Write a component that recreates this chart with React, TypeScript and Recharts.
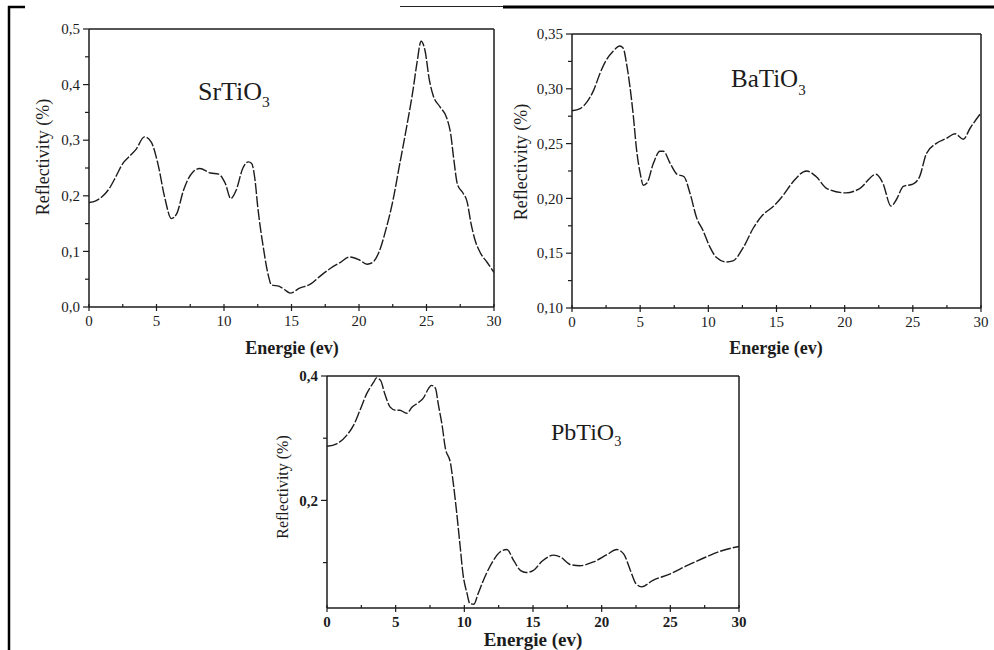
import React from 'react';
import { LineChart, Line, XAxis, YAxis, ReferenceLine } from 'recharts';

// shared energy axis (eV)
const energyTicks = [0, 2.5, 5, 7.5, 10, 12.5, 15, 17.5, 20, 22.5, 25, 27.5, 30];
const energyLabels = [0, 5, 10, 15, 20, 25, 30];

// SrTiO3
const srEnergy = [0, 0.5, 1, 1.5, 2, 2.5, 3, 3.5, 4.1, 4.6, 5.1, 5.6, 6.1, 6.5, 7, 7.7, 8.2, 9, 9.6, 10.1, 10.5, 10.9, 11.4, 11.8, 12.05, 12.3, 12.5, 12.9, 13.3, 13.5, 14.1, 14.5, 14.9, 15.6, 16.4, 17.1, 18.1, 18.6, 19.3, 20, 20.6, 21, 21.5, 22, 22.5, 23, 23.5, 24, 24.3, 24.6, 24.9, 25.2, 25.5, 26, 26.5, 26.8, 27, 27.3, 27.7, 28, 28.3, 28.6, 29, 29.5, 30];
const srRefl = [0.188, 0.191, 0.199, 0.213, 0.235, 0.258, 0.271, 0.284, 0.306, 0.297, 0.258, 0.198, 0.159, 0.168, 0.21, 0.243, 0.249, 0.241, 0.239, 0.222, 0.195, 0.21, 0.25, 0.261, 0.258, 0.228, 0.18, 0.109, 0.055, 0.04, 0.037, 0.031, 0.025, 0.034, 0.041, 0.055, 0.073, 0.08, 0.09, 0.085, 0.077, 0.08, 0.1, 0.14, 0.19, 0.255, 0.32, 0.39, 0.44, 0.478, 0.46, 0.41, 0.38, 0.36, 0.34, 0.31, 0.27, 0.22, 0.205, 0.19, 0.15, 0.12, 0.097, 0.08, 0.062];
const srTicks = [0, 0.05, 0.1, 0.15, 0.2, 0.25, 0.3, 0.35, 0.4, 0.45, 0.5];
const srLabels = [0, 0.1, 0.2, 0.3, 0.4, 0.5];

// BaTiO3
const baEnergy = [0, 0.6, 1.1, 1.6, 2.05, 2.5, 3.0, 3.5, 3.76, 4.0, 4.25, 4.5, 4.74, 5.0, 5.23, 5.5, 5.97, 6.45, 6.7, 7.2, 7.7, 8.2, 8.65, 9.15, 9.6, 10.1, 10.6, 11.3, 11.8, 12.6, 13.3, 14.0, 14.8, 15.5, 16.2, 17.2, 17.9, 18.7, 20.1, 21.1, 22.3, 22.8, 23.4, 23.8, 24.3, 25.0, 25.5, 26.0, 26.7, 27.5, 28.1, 28.7, 29.2, 30];
const baRefl = [0.28, 0.282, 0.288, 0.299, 0.314, 0.326, 0.334, 0.339, 0.337, 0.323, 0.302, 0.275, 0.244, 0.223, 0.212, 0.214, 0.232, 0.243, 0.243, 0.232, 0.222, 0.22, 0.205, 0.182, 0.171, 0.156, 0.146, 0.142, 0.143, 0.156, 0.173, 0.185, 0.193, 0.203, 0.215, 0.225, 0.22, 0.209, 0.205, 0.209, 0.222, 0.214, 0.193, 0.199, 0.211, 0.213, 0.22, 0.241, 0.25, 0.255, 0.259, 0.254, 0.264, 0.278];
const baTicks = [0.1, 0.125, 0.15, 0.175, 0.2, 0.225, 0.25, 0.275, 0.3, 0.325, 0.35];
const baLabels = [0.1, 0.15, 0.2, 0.25, 0.3, 0.35];

// PbTiO3
const pbEnergy = [0, 0.7, 1.45, 1.94, 2.4, 2.9, 3.4, 3.6, 3.9, 4.2, 4.6, 5.0, 5.3, 5.8, 6.2, 6.7, 7.0, 7.4, 7.6, 7.9, 8.1, 8.4, 8.6, 9.0, 9.2, 9.45, 9.7, 9.9, 10.2, 10.4, 10.7, 11.0, 11.6, 12.1, 12.6, 13.1, 13.6, 14.1, 14.5, 15.0, 15.7, 16.5, 17.0, 17.7, 18.4, 19.4, 20.4, 21.1, 21.6, 22.1, 22.5, 22.9, 23.7, 25.0, 26.2, 27.6, 28.6, 30];
const pbRefl = [0.287, 0.291, 0.305, 0.321, 0.345, 0.372, 0.39, 0.397, 0.393, 0.372, 0.35, 0.345, 0.345, 0.34, 0.35, 0.358, 0.364, 0.38, 0.385, 0.38, 0.355, 0.318, 0.286, 0.259, 0.227, 0.179, 0.125, 0.082, 0.05, 0.034, 0.033, 0.05, 0.082, 0.103, 0.117, 0.121, 0.103, 0.087, 0.084, 0.087, 0.103, 0.112, 0.109, 0.097, 0.095, 0.101, 0.113, 0.121, 0.114, 0.087, 0.066, 0.061, 0.071, 0.082, 0.095, 0.109, 0.118, 0.126];
const pbTicks = [0.1, 0.2, 0.3, 0.4];
const pbLabels = [0.2, 0.4];

const INK = '#1c1c1c';
const SERIF = '"Liberation Serif", "Times New Roman", serif';
const serif = { fontFamily: SERIF };

const has = (list: number[], v: number) => list.some((t) => Math.abs(t - v) < 1e-9);

const makeXTick = (fontSize: number, weight: string) => (props: any) => {
  const { x, y, payload } = props;
  const major = has(energyLabels, payload.value);
  return (
    <g>
      <line x1={x} x2={x} y1={y - 3} y2={y + (major ? 4 : 0)} stroke={INK} strokeWidth={1.2} />
      {major && (
        <text x={x} y={y + 8} dy="0.71em" textAnchor="middle" style={serif} fontSize={fontSize} fontWeight={weight} fill={INK}>
          {payload.value}
        </text>
      )}
    </g>
  );
};

const makeYTick = (labels: number[], digits: number, fontSize: number, weight: string) => (props: any) => {
  const { x, y, payload } = props;
  const major = has(labels, payload.value);
  return (
    <g>
      <line x1={x - (major ? 6 : 4)} x2={x} y1={y} y2={y} stroke={INK} strokeWidth={1.2} />
      {major && (
        <text x={x - 9} y={y} dy="0.35em" textAnchor="end" style={serif} fontSize={fontSize} fontWeight={weight} fill={INK}>
          {payload.value.toFixed(digits).replace('.', ',')}
        </text>
      )}
    </g>
  );
};

type PanelProps = {
  left: number;
  top: number;
  width: number;
  height: number;
  margin: { top: number; right: number; bottom: number; left: number };
  energy: number[];
  refl: number[];
  yDomain: [number, number];
  yTicks: number[];
  yLabels: number[];
  digits: number;
  weight: string;
};

const Panel = ({ left, top, width, height, margin, energy, refl, yDomain, yTicks, yLabels, digits, weight }: PanelProps) => {
  const data = energy.map((e, i) => ({ e, r: refl[i] }));
  return (
    <div style={{ position: 'absolute', left, top }}>
      <LineChart width={width} height={height} data={data} margin={margin}>
        <XAxis
          dataKey="e"
          type="number"
          domain={[0, 30]}
          ticks={energyTicks}
          interval={0}
          tickSize={0}
          tickMargin={0}
          tickLine={false}
          axisLine={{ stroke: INK, strokeWidth: 1.5 }}
          height={20}
          tick={makeXTick(15, weight)}
          allowDataOverflow
        />
        <YAxis
          type="number"
          domain={yDomain}
          ticks={yTicks}
          interval={0}
          tickSize={0}
          tickMargin={0}
          tickLine={false}
          axisLine={{ stroke: INK, strokeWidth: 1.5 }}
          width={60}
          tick={makeYTick(yLabels, digits, 15, weight)}
          allowDataOverflow
        />
        <ReferenceLine y={yDomain[1]} stroke={INK} strokeWidth={1.5} />
        <ReferenceLine x={30} stroke={INK} strokeWidth={1.5} />
        <Line
          dataKey="r"
          type="monotone"
          stroke={INK}
          strokeWidth={1.4}
          strokeDasharray="11 2"
          dot={false}
          isAnimationActive={false}
        />
      </LineChart>
    </div>
  );
};

const Formula = ({ x, y, size, name, subDy }: { x: number; y: number; size: number; name: string; subDy: number }) => (
  <text x={x} y={y} style={serif} fontSize={size} fill={INK}>
    {name}
    <tspan fontSize={size * 0.6} dy={subDy}>3</tspan>
  </text>
);

const AxisTitles = ({ cx, baseline, rx, ry, size, ysize }: { cx: number; baseline: number; rx: number; ry: number; size: number; ysize: number }) => (
  <g fill={INK}>
    <text x={cx} y={baseline} textAnchor="middle" style={serif} fontSize={size} fontWeight="bold">
      Energie (ev)
    </text>
    <text transform={`translate(${rx},${ry}) rotate(-90)`} textAnchor="middle" style={serif} fontSize={ysize}>
      Reflectivity (%)
    </text>
  </g>
);

export default function App() {
  return (
    <div style={{ position: 'absolute', left: 0, top: 0, width: 994, height: 650, background: '#fff', overflow: 'hidden' }}>
      <Panel
        left={0}
        top={0}
        width={510}
        height={330}
        margin={{ top: 29, right: 16, bottom: 3, left: 29 }}
        energy={srEnergy}
        refl={srRefl}
        yDomain={[0, 0.5]}
        yTicks={srTicks}
        yLabels={srLabels}
        digits={1}
        weight="normal"
      />
      <Panel
        left={500}
        top={0}
        width={494}
        height={330}
        margin={{ top: 34, right: 13, bottom: 2, left: 12 }}
        energy={baEnergy}
        refl={baRefl}
        yDomain={[0.1, 0.35]}
        yTicks={baTicks}
        yLabels={baLabels}
        digits={2}
        weight="normal"
      />
      <Panel
        left={240}
        top={350}
        width={520}
        height={300}
        margin={{ top: 26, right: 21, bottom: 22, left: 27 }}
        energy={pbEnergy}
        refl={pbRefl}
        yDomain={[0.027, 0.4]}
        yTicks={pbTicks}
        yLabels={pbLabels}
        digits={1}
        weight="bold"
      />
      <svg width={994} height={650} style={{ position: 'absolute', left: 0, top: 0, pointerEvents: 'none' }}>
        <line x1={9} x2={9} y1={6} y2={650} stroke="#000" strokeWidth={2.5} />
        <line x1={8} x2={25} y1={7} y2={7} stroke="#000" strokeWidth={2.5} />
        <line x1={400} x2={503} y1={6.5} y2={6.5} stroke="#222" strokeWidth={1} />
        <line x1={503} x2={994} y1={7} y2={7} stroke="#000" strokeWidth={3} />
        <Formula x={198} y={100} size={26} name="SrTiO" subDy={7} />
        <Formula x={731} y={87} size={25} name="BaTiO" subDy={8} />
        <Formula x={551} y={440} size={24} name="PbTiO" subDy={6} />
        <AxisTitles cx={292} baseline={354} rx={49} ry={157} size={18} ysize={18} />
        <AxisTitles cx={776} baseline={354} rx={527} ry={162} size={18} ysize={18} />
        <AxisTitles cx={533} baseline={646} rx={288} ry={487} size={19} ysize={16} />
      </svg>
    </div>
  );
}
